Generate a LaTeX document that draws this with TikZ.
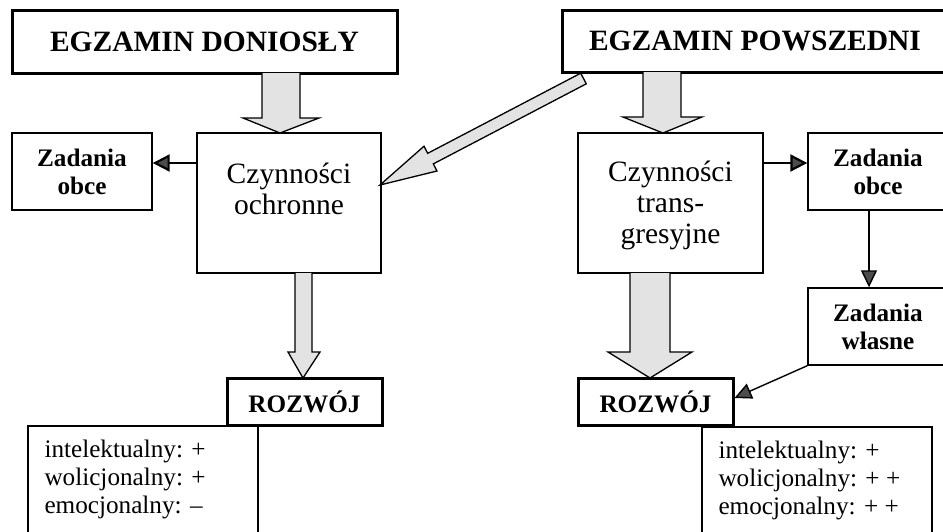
\documentclass[tikz,border=0pt]{standalone}
\usepackage{fontspec}
\setmainfont{Liberation Serif}
\usetikzlibrary{arrows.meta,calc}
\tikzset{
  box/.style={draw, line width=1.4pt, inner sep=0pt, anchor=center},
  thickbox/.style={draw, line width=3pt, inner sep=0pt, anchor=center},
  headfont/.style={font=\bfseries\fontsize{29.5}{32}\selectfont},
  smallbold/.style={font=\bfseries\fontsize{25.2}{28}\selectfont, align=center},
  bigreg/.style={font=\fontsize{29.5}{31}\selectfont, align=center, inner sep=0pt},
  listtext/.style={font=\fontsize{25.2}{28}\selectfont, align=left, inner sep=0pt, anchor=north west},
  blockarrow/.style={draw, line width=1.3pt, fill=gray!22, line join=miter},
  thinarrow/.style={draw, line width=2.2pt, -{Triangle[length=17pt,width=17pt,fill=gray!60!black]}},
  thinarrowb/.style={draw, line width=1.4pt, -{Triangle[length=17pt,width=16pt,fill=gray!60!black]}},
}
\begin{document}
\begin{tikzpicture}[x=1pt,y=-1pt]
\useasboundingbox[fill=white] (0,0) rectangle (943,531);

% top boxes
\node[thickbox, headfont, minimum width=385pt, minimum height=63pt] (egzd) at (204.5,41.5) {EGZAMIN DONIOSŁY};
\node[thickbox, headfont, minimum width=386pt, minimum height=62pt] (egzp) at (755,41) {EGZAMIN POWSZEDNI};

% middle boxes
\node[box, minimum width=140pt, minimum height=77pt, smallbold] (zol) at (82,171.5) {Zadania\\obce};
\node[box, minimum width=184pt, minimum height=140pt] (czo) at (289,203) {};
\node[bigreg] (czot) at ($(czo.north)+(0,57)$) {Czynności\\ochronne};
\node[box, minimum width=185pt, minimum height=140pt] (czt) at (670.5,203) {};
\node[bigreg] (cztt) at ($(czt.north)+(0,73)$) {Czynności\\trans-\\gresyjne};
\node[box, minimum width=140pt, minimum height=77pt, smallbold] (zor) at (878,171.5) {Zadania\\obce};
\node[box, minimum width=140pt, minimum height=77pt, smallbold] (zw) at (878,326.5) {Zadania\\własne};

% ROZWOJ boxes
\node[thickbox, smallbold, minimum width=155pt, minimum height=47pt] (rl) at (304.5,401.5) {ROZWÓJ};
\node[thickbox, smallbold, minimum width=155pt, minimum height=47pt] (rr) at (655.5,401.5) {ROZWÓJ};

% list boxes
\node[box, minimum width=230pt, minimum height=120pt] (ll) at (143,486) {};
\node[listtext] (llt) at ($(ll.north west)+(17,15)$) {intelektualny: +\\wolicjonalny: +\\emocjonalny: --};
\node[box, minimum width=230pt, minimum height=120pt] (lr) at (817,487) {};
\node[listtext] (lrt) at ($(lr.north west)+(17,15)$) {intelektualny: +\\wolicjonalny: + +\\emocjonalny: + +};

% block arrows (vertical)
\draw[blockarrow] (262,73) -- (262,118) -- (243,118) -- (280,133) -- (319,118) -- (300,118) -- (300,73);
\draw[blockarrow] (643,72) -- (643,117) -- (623,117) -- (663,133) -- (702,117) -- (681,117) -- (681,72);
\draw[blockarrow] (295,273) -- (295,352) -- (288,352) -- (303,378) -- (320,352) -- (312,352) -- (312,273);
\draw[blockarrow] (630,273) -- (630,352) -- (608,352) -- (650,378) -- (692,352) -- (670,352) -- (670,273);

% diagonal block arrow
\draw[blockarrow] (586.3,83.8) -- (433.3,163.9) -- (437.0,171.0) -- (380,185) -- (424.0,146.2) -- (427.7,153.3) -- (580.7,73.2) -- cycle;

% thin arrows
\draw[thinarrow] (czo.west |- 0,163) -- (zol.east |- 0,163);
\draw[thinarrow] (czt.east |- 0,163) -- (zor.west |- 0,163);
\draw[thinarrowb] ([xshift=-9pt]zor.south) -- ([xshift=-9pt]zw.north);
\draw[thinarrowb] (zw.south west) -- ([yshift=3.5pt]rr.east);
\end{tikzpicture}
\end{document}
